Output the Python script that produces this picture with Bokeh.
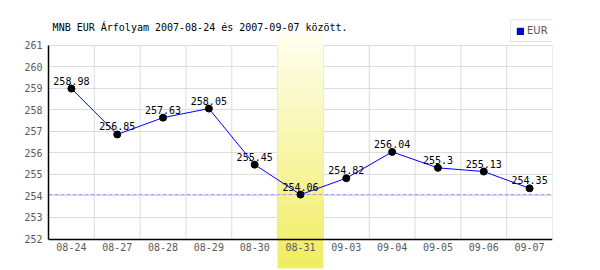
from bokeh.plotting import figure
from bokeh.models import (Range1d, FixedTicker, Span, BoxAnnotation, Label,
                          Legend, LegendItem, ColumnDataSource)
from bokeh.core.properties import value
from bokeh.embed import file_html
from bokeh.resources import INLINE

dates = ["08-24", "08-27", "08-28", "08-29", "08-30", "08-31",
         "09-03", "09-04", "09-05", "09-06", "09-07"]
eur = [258.98, 256.85, 257.63, 258.05, 255.45, 254.06,
       254.82, 256.04, 255.3, 255.13, 254.35]
value_labels = ["258.98", "256.85", "257.63", "258.05", "255.45", "254.06",
                "254.82", "256.04", "255.3", "255.13", "254.35"]
y_ticks = list(range(252, 262))
highlight = "08-31"
title_text = "MNB EUR Árfolyam 2007-08-24 és 2007-09-07 között."
series_name = "EUR"

FONT = "DejaVu Sans Mono"
H = 270
plot_top, plot_bot = 44.5, 238.5          # canvas pixels of y_ticks[-1], y_ticks[0]
ppu = (plot_bot - plot_top) / (y_ticks[-1] - y_ticks[0])
y0 = y_ticks[0] - (H - plot_bot) / ppu
y1 = y_ticks[-1] + plot_top / ppu


def cy(c):
    """canvas pixel row -> data y"""
    return y_ticks[-1] - (c - plot_top) / ppu


xs = [i + 0.5 for i in range(len(dates))]
src = ColumnDataSource(dict(x=xs, y=eur, lab=value_labels))

p = figure(width=600, height=H, output_backend="svg", toolbar_location=None,
           x_range=Range1d(0, len(dates)), y_range=Range1d(y0, y1),
           min_border_left=48, min_border_right=48, min_border_top=0,
           min_border_bottom=0)
p.outline_line_color = None
p.background_fill_color = "white"
p.border_fill_color = "white"

# grids
p.xgrid.visible = False
p.ygrid.ticker = FixedTicker(ticks=y_ticks)
p.ygrid.grid_line_color = "#dcdcdc"
gx = list(range(1, len(dates) + 1))
p.segment(x0=gx, x1=gx, y0=[y_ticks[0]] * len(gx), y1=[y_ticks[-1]] * len(gx),
          line_color="#dcdcdc", line_width=1, level="underlay")

# axes
p.xaxis.ticker = FixedTicker(ticks=xs)
p.xaxis.major_label_overrides = {x: d for x, d in zip(xs, dates)}
p.xaxis.fixed_location = y_ticks[0]
p.yaxis.ticker = FixedTicker(ticks=y_ticks)
p.yaxis.bounds = (y_ticks[0], y_ticks[-1])
for ax in (p.xaxis[0], p.yaxis[0]):
    ax.axis_line_color = "black"
    ax.axis_line_width = 1.5
    ax.major_tick_line_color = None
    ax.minor_tick_line_color = None
    ax.major_tick_out = 0
    ax.major_tick_in = 0
    ax.minor_tick_out = 0
    ax.major_label_text_color = "#5a5a5a"
    ax.major_label_text_font = FONT
    ax.major_label_text_font_size = "10px"
p.xaxis.major_label_standoff = 4
p.yaxis.major_label_standoff = 6

# highlighted column with vertical gradient
hi = dates.index(highlight)
top_c, bot_c = 33, 268
n = 47
c0 = (255, 254, 238)
c1 = (240, 237, 98)
step = (bot_c - top_c) / n
for k in range(n):
    t = k / (n - 1)
    col = tuple(round(a + (b - a) * t) for a, b in zip(c0, c1))
    ct = top_c + k * step
    cb = min(ct + step + 0.6, bot_c)
    p.add_layout(BoxAnnotation(
        left=hi, right=hi + 1, top=cy(ct), bottom=cy(cb),
        fill_color="#%02x%02x%02x" % col, fill_alpha=1, line_color=None,
        level="underlay"))

# dashed line at minimum
p.add_layout(Span(location=min(eur), dimension="width", line_color="#9a9af0",
                  line_dash="4 2", line_width=1, level="underlay"))

p.line("x", "y", source=src, line_color="#0000ff", line_width=1)
p.scatter("x", "y", source=src, size=7, fill_color="black", line_color="black")
p.text("x", "y", text="lab", source=src, text_font=value(FONT),
       text_font_size="10px", text_color="black", text_align="center",
       text_baseline="alphabetic", y_offset=-8)

# title
p.add_layout(Label(x=0.09, y=cy(27), text=title_text, text_font=FONT,
                   text_font_size="10px", text_color="black",
                   text_baseline="middle"))

# legend (swatch renderer is hidden; only its legend glyph shows)
swatch = p.quad(left=xs[:1], right=xs[:1], top=eur[:1], bottom=eur[:1],
                fill_color="#0000ff", line_color="#000040", visible=False)
leg = Legend(items=[LegendItem(label=series_name, renderers=[swatch])],
             location=(462, H - 42), padding=5, glyph_width=8, glyph_height=8,
             label_height=10, label_width=20, label_standoff=3,
             label_text_font="DejaVu Sans", label_text_font_size="10px",
             label_text_color="#555555", border_line_color="#cccccc",
             background_fill_color="white", background_fill_alpha=1,
             inactive_fill_alpha=0, margin=0, click_policy="none")
p.add_layout(leg)

open("out.html", "w").write(file_html(p, INLINE))
